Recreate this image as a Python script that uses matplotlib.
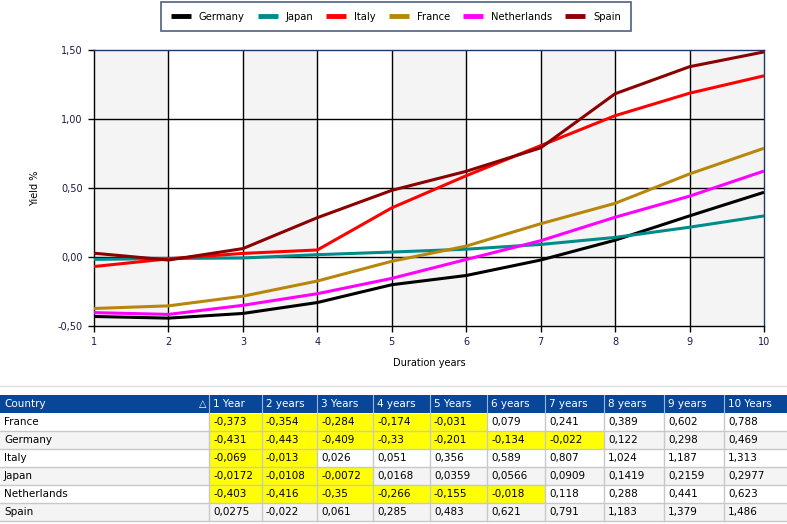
import numpy as np
import matplotlib
matplotlib.use('Agg')
import matplotlib.pyplot as plt
from matplotlib.patches import Rectangle

# data
durations = [1, 2, 3, 4, 5, 6, 7, 8, 9, 10]
germany = [-0.431, -0.443, -0.409, -0.33, -0.201, -0.134, -0.022, 0.122, 0.298, 0.469]
japan = [-0.0172, -0.0108, -0.0072, 0.0168, 0.0359, 0.0566, 0.0909, 0.1419, 0.2159, 0.2977]
italy = [-0.069, -0.013, 0.026, 0.051, 0.356, 0.589, 0.807, 1.024, 1.187, 1.313]
france = [-0.373, -0.354, -0.284, -0.174, -0.031, 0.079, 0.241, 0.389, 0.602, 0.788]
netherlands = [-0.403, -0.416, -0.35, -0.266, -0.155, -0.018, 0.118, 0.288, 0.441, 0.623]
spain = [0.0275, -0.022, 0.061, 0.285, 0.483, 0.621, 0.791, 1.183, 1.379, 1.486]

series_names = ['Germany', 'Japan', 'Italy', 'France', 'Netherlands', 'Spain']
series_values = [germany, japan, italy, france, netherlands, spain]
series_colors = ['#000000', '#008B8B', '#FF0000', '#B8860B', '#FF00FF', '#8B0000']

table_rows = ['France', 'Germany', 'Italy', 'Japan', 'Netherlands', 'Spain']
table_text = {
    'France': ['-0,373', '-0,354', '-0,284', '-0,174', '-0,031', '0,079', '0,241', '0,389', '0,602', '0,788'],
    'Germany': ['-0,431', '-0,443', '-0,409', '-0,33', '-0,201', '-0,134', '-0,022', '0,122', '0,298', '0,469'],
    'Italy': ['-0,069', '-0,013', '0,026', '0,051', '0,356', '0,589', '0,807', '1,024', '1,187', '1,313'],
    'Japan': ['-0,0172', '-0,0108', '-0,0072', '0,0168', '0,0359', '0,0566', '0,0909', '0,1419', '0,2159', '0,2977'],
    'Netherlands': ['-0,403', '-0,416', '-0,35', '-0,266', '-0,155', '-0,018', '0,118', '0,288', '0,441', '0,623'],
    'Spain': ['0,0275', '-0,022', '0,061', '0,285', '0,483', '0,621', '0,791', '1,183', '1,379', '1,486'],
}
header = ['Country', '1 Year', '2 years', '3 Years', '4 years', '5 Years',
          '6 years', '7 years', '8 years', '9 years', '10 Years']
highlight_count = {'France': 5, 'Germany': 7, 'Italy': 2, 'Japan': 3, 'Netherlands': 6, 'Spain': 0}

W, H = 787, 524
fig = plt.figure(figsize=(W / 100, H / 100), dpi=100)
plt.rcParams['font.family'] = ['DejaVu Sans']

# ---- line chart
x0, x1, ytop, ybot = 94, 764, 50, 326
ax = fig.add_axes([x0 / W, 1 - ybot / H, (x1 - x0) / W, (ybot - ytop) / H])
ax.set_xlim(1, 10)
ax.set_ylim(-0.5, 1.5)

for i in range(1, 10, 2):
    ax.axvspan(i, i + 1, color='#F4F4F4', zorder=0, lw=0)
for xv in range(2, 10):
    ax.axvline(xv, color='black', lw=1, zorder=1)
for yv in [0.0, 0.5, 1.0]:
    ax.axhline(yv, color='black', lw=1, zorder=1)

for name, vals, col in zip(series_names, series_values, series_colors):
    ax.plot(durations, vals, color=col, lw=2.2, label=name, zorder=3, solid_capstyle='butt')

ax.set_xticks(durations)
ax.set_xticklabels([str(d) for d in durations], fontsize=7, color='#1a1a4a')
yt = [-0.5, 0.0, 0.5, 1.0, 1.5]
ax.set_yticks(yt)
ax.set_yticklabels([('%.2f' % v).replace('.', ',') for v in yt], fontsize=7, color='#1a1a4a')
ax.tick_params(axis='both', length=4, width=1, color='black', pad=4)
ax.set_xlabel('Duration years', fontsize=7, labelpad=8)
ax.set_ylabel('Yield %', fontsize=7, labelpad=13)

ax.spines['left'].set_color('black')
ax.spines['bottom'].set_color('black')
ax.spines['top'].set_color('#1F3864')
ax.spines['right'].set_color('#1F3864')
for s in ax.spines.values():
    s.set_linewidth(1)

leg = fig.legend(loc='center', bbox_to_anchor=(396 / W, 1 - 16.5 / H), ncol=6,
                 fontsize=7.2, frameon=True, fancybox=False, handlelength=2.0,
                 handletextpad=0.8, columnspacing=1.3, borderpad=0.95)
leg.get_frame().set_edgecolor('#1F3864')
leg.get_frame().set_linewidth(1.2)
for line in leg.get_lines():
    line.set_linewidth(3.5)

# ---- table
tab = fig.add_axes([0, 0, 1, 1])
tab.set_xlim(0, W)
tab.set_ylim(H, 0)
tab.axis('off')

tab.plot([0, W], [386, 386], color='#E0E0E0', lw=1)

col_edges = [0, 209, 262, 317, 373, 430, 487, 545, 604, 664, 724, 787]
row_top = 395
row_h = 18

tab.add_patch(Rectangle((0, row_top), W, row_h, facecolor='#08469A', edgecolor='none'))
for j, txt in enumerate(header):
    tab.text(col_edges[j] + 4, row_top + row_h / 2, txt, color='white', fontsize=7.5,
             va='center', ha='left')
    if j > 0:
        tab.plot([col_edges[j], col_edges[j]], [row_top, row_top + row_h], color='#9FB6D6', lw=0.8)
tab.text(col_edges[1] - 3, row_top + row_h / 2, '\u25b3', color='white', fontsize=7,
         va='center', ha='right')

for i, country in enumerate(table_rows):
    top = row_top + row_h * (i + 1)
    bg = 'white' if i % 2 == 0 else '#F4F4F4'
    tab.add_patch(Rectangle((0, top), W, row_h, facecolor=bg, edgecolor='none'))
    for k in range(highlight_count[country]):
        tab.add_patch(Rectangle((col_edges[k + 1], top + 1), col_edges[k + 2] - col_edges[k + 1],
                                row_h - 1.5, facecolor='#FFFF00', edgecolor='none'))
    tab.text(4, top + row_h / 2, country, color='black', fontsize=7.5, va='center', ha='left')
    for j, txt in enumerate(table_text[country]):
        tab.text(col_edges[j + 1] + 4, top + row_h / 2, txt, color='black', fontsize=7.5,
                 va='center', ha='left')
    tab.plot([0, W], [top + row_h, top + row_h], color='#C8C8C8', lw=1)

bottom = row_top + row_h * (len(table_rows) + 1)
for e in col_edges[1:-1]:
    tab.plot([e, e], [row_top + row_h, bottom], color='#C8C8C8', lw=1)

fig.savefig('out.png', dpi=100)
